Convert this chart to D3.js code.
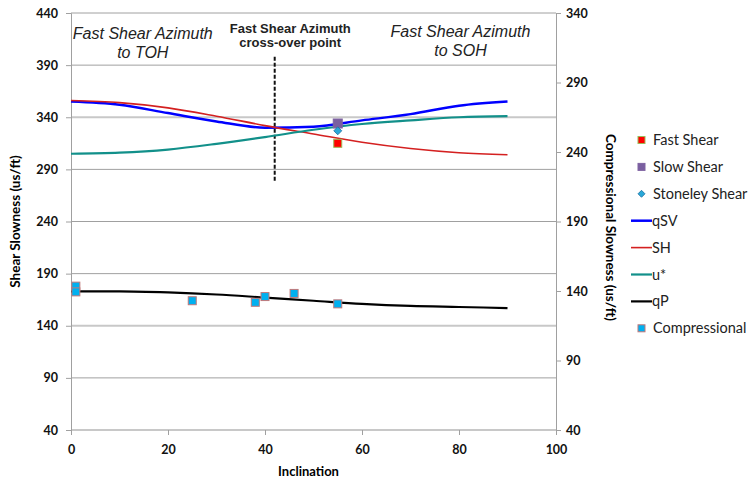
<!DOCTYPE html>
<html><head><meta charset="utf-8">
<script src="https://cdn.jsdelivr.net/npm/d3@7"></script>
<style>body{margin:0;background:#fff}svg{display:block}</style>
</head><body>
<svg id="c" width="749" height="481"></svg>
<script>
// ---- data ----
const inclination = [0,10,20,30,40,50,60,70,80,90];
const qSV = [355,352,344,336,330,331,337,343,351,355];
const SH  = [356,354,349,341,332,324,316,310,306,304];
const uStar = [305,306,309,314.5,321,328,333.5,337,340,341];
const qP = [173,173,172,170,167,164,161,159,158,157];
const fastShear = [{x:55,y:315}];
const slowShear = [{x:55,y:334}];
const stoneley = [{x:55,y:327}];
const compX = [1,1,25,38,40,46,55];
const compY = [178,172.5,164,162.5,168,171,161];
const leftTicks = [40,90,140,190,240,290,340,390,440];
const rightTicks = [40,90,140,190,240,290,340];
const xTicks = [0,20,40,60,80,100];
const crossX = [42,42], crossY = [398,279];

const svg = d3.select('#c');
const L=71,R=556,T=13,B=430;
const x = d3.scaleLinear().domain([0,100]).range([L,R]);
const y = d3.scaleLinear().domain([40,440]).range([B,T]);
const yR = d3.scaleLinear().domain([40,340]).range([B,T]);
const FONT = "Lato, 'Open Sans', sans-serif";

// gridlines
svg.append('g').selectAll('line').data(leftTicks).join('line')
  .attr('x1',L).attr('x2',R).attr('y1',d=>y(d)).attr('y2',d=>y(d))
  .attr('stroke',d=>(d===340||d===140||d===40)?'#c8c8c8':'#a0a0a0')
  .attr('stroke-width',d=>(d===340||d===140||d===40)?2:1);

// left axis
const gl = svg.append('g').attr('transform',`translate(${L},0)`)
  .call(d3.axisLeft(y).tickValues(leftTicks).tickSize(5).tickPadding(8));
gl.select('.domain').attr('stroke','#a0a0a0');
gl.selectAll('.tick line').attr('stroke','#a0a0a0');
gl.selectAll('text').attr('font-family',FONT).attr('font-weight','bold').attr('font-size',12.5).attr('fill','#111');

// right axis
const gr = svg.append('g').attr('transform',`translate(${R},0)`)
  .call(d3.axisRight(yR).tickValues(rightTicks).tickSize(5).tickPadding(5));
gr.select('.domain').attr('stroke','#a0a0a0');
gr.selectAll('.tick line').attr('stroke','#a0a0a0');
gr.selectAll('text').attr('font-family',FONT).attr('font-weight','bold').attr('font-size',12.5).attr('fill','#111');

// bottom axis
const gb = svg.append('g').attr('transform',`translate(0,${B})`)
  .call(d3.axisBottom(x).tickValues(xTicks).tickSize(5).tickPadding(10));
gb.select('.domain').remove();
gb.selectAll('.tick line').attr('stroke','#a0a0a0');
gb.selectAll('text').attr('font-family',FONT).attr('font-weight','bold').attr('font-size',12.5).attr('fill','#111');

// axis titles
svg.append('text').attr('transform',`translate(20,${(T+B)/2}) rotate(-90)`)
  .attr('text-anchor','middle').attr('font-family',FONT).attr('font-weight','bold').attr('font-size',13.5).text('Shear Slowness (us/ft)');
svg.append('text').attr('transform',`translate(606,${(T+B)/2+6}) rotate(90)`)
  .attr('text-anchor','middle').attr('font-family',FONT).attr('font-weight','bold').attr('font-size',13.5).text('Compressional Slowness (us/ft)');
svg.append('text').attr('x',(L+R)/2-5).attr('y',476).attr('text-anchor','middle')
  .attr('font-family',FONT).attr('font-weight','bold').attr('font-size',13).text('Inclination');

// dashed cross-over line
svg.append('line').attr('x1',x(crossX[0])).attr('x2',x(crossX[1]))
  .attr('y1',y(crossY[0])).attr('y2',y(crossY[1]))
  .attr('stroke','#111').attr('stroke-width',2).attr('stroke-dasharray','4,2');

// annotations
const AF = "'Liberation Sans', Arial, sans-serif";
function ann(cx, lines, y0, dy, opts){
  const t = svg.append('text').attr('text-anchor','middle').attr('font-family',AF)
    .attr('font-size',opts.size).attr('font-style',opts.style||'normal').attr('font-weight',opts.weight||'normal').attr('fill','#222');
  lines.forEach((s,i)=>t.append('tspan').attr('x',x(cx)).attr('y',y0+i*dy).text(s));
}
ann(14.8,['Fast Shear Azimuth','to TOH'],39,18.5,{size:16,style:'italic'});
ann(45.2,['Fast Shear Azimuth','cross-over point'],32.5,14.5,{size:13,weight:'bold'});
ann(80.3,['Fast Shear Azimuth','to SOH'],37,18.5,{size:16,style:'italic'});

// lines
const curve = d3.curveMonotoneX;
function drawLine(vals,color,w){
  svg.append('path').datum(vals.map((v,i)=>[inclination[i],v]))
    .attr('fill','none').attr('stroke',color).attr('stroke-width',w)
    .attr('d',d3.line().x(d=>x(d[0])).y(d=>y(d[1])).curve(curve));
}
drawLine(qSV,'#0000ff',2.5);
drawLine(SH,'#d42020',1.6);
drawLine(uStar,'#12908a',2.2);
drawLine(qP,'#000',2.2);

// points
const comp = compX.map((v,i)=>({x:v,y:compY[i]}));
svg.append('g').selectAll('rect').data(comp).join('rect')
  .attr('x',d=>x(d.x)-4).attr('y',d=>y(d.y)-4).attr('width',8).attr('height',8)
  .attr('fill','#00b0f0').attr('stroke','#c0787a').attr('stroke-width',1);
svg.append('g').selectAll('rect').data(fastShear).join('rect')
  .attr('x',d=>x(d.x)-4).attr('y',d=>y(d.y)-4).attr('width',8).attr('height',8)
  .attr('fill','#ff0000').attr('stroke','#9bbb59').attr('stroke-width',1);
svg.append('g').selectAll('rect').data(slowShear).join('rect')
  .attr('x',d=>x(d.x)-4.5).attr('y',d=>y(d.y)-4.5).attr('width',9).attr('height',9)
  .attr('fill','#7a5fa0').attr('stroke','#8064a2').attr('stroke-width',1);
svg.append('g').selectAll('path').data(stoneley).join('path')
  .attr('transform',d=>`translate(${x(d.x)},${y(d.y)})`)
  .attr('d','M0,-4L4,0L0,4L-4,0Z').attr('fill','#29a8d8').attr('stroke','#1a6ea0').attr('stroke-width',0.8);

// legend
const legendItems = [
  {name:'Fast Shear',type:'sq',fill:'#ff0000',stroke:'#9bbb59'},
  {name:'Slow Shear',type:'sq',fill:'#7a5fa0',stroke:'#8064a2'},
  {name:'Stoneley Shear',type:'di',fill:'#29a8d8',stroke:'#1a6ea0'},
  {name:'qSV',type:'ln',stroke:'#0000ff',w:2.5},
  {name:'SH',type:'ln',stroke:'#d42020',w:1.6},
  {name:'u*',type:'ln',stroke:'#12908a',w:2.2},
  {name:'qP',type:'ln',stroke:'#000',w:2.2},
  {name:'Compressional',type:'sq',fill:'#00b0f0',stroke:'#c0787a'}
];
const lg = svg.append('g');
legendItems.forEach((it,i)=>{
  const cy = 140 + i*26.9;
  if(it.type==='sq') lg.append('rect').attr('x',638).attr('y',cy-3.5).attr('width',7).attr('height',7).attr('fill',it.fill).attr('stroke',it.stroke);
  else if(it.type==='di') lg.append('path').attr('transform',`translate(641.5,${cy})`).attr('d','M0,-3.5L3.5,0L0,3.5L-3.5,0Z').attr('fill',it.fill).attr('stroke',it.stroke).attr('stroke-width',0.8);
  else lg.append('line').attr('x1',631).attr('x2',652).attr('y1',cy).attr('y2',cy).attr('stroke',it.stroke).attr('stroke-width',it.w);
  lg.append('text').attr('x',it.type==='ln'?652:653).attr('y',cy+5).attr('font-family',FONT).attr('font-size',14.5).attr('fill','#222').text(it.name);
});
</script>
</body></html>
